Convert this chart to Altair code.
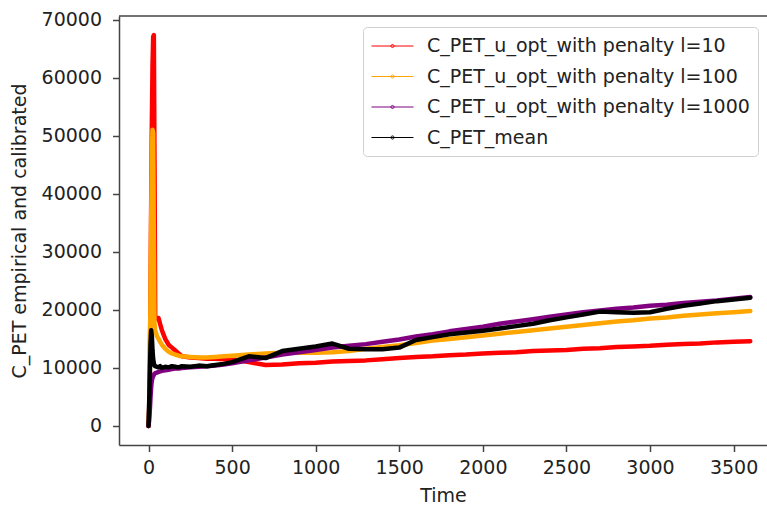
import altair as alt
import pandas as pd

# Time axis (seconds)
time = [0, 4, 8, 12, 16, 20, 24, 28, 32, 36, 40,
        50, 60, 70, 80, 100, 120, 140, 160, 180, 200, 250, 300, 350, 400, 450, 500,
        600, 700, 800, 900, 1000, 1100, 1200, 1300, 1400, 1500, 1600, 1700, 1800, 1900,
        2000, 2100, 2200, 2300, 2400, 2500, 2600, 2700, 2800, 2900, 3000, 3100, 3200,
        3300, 3400, 3500, 3600]

pen_10 = [0, 3000, 11000, 23500, 38000, 52000, 62000, 67000, 67300, 45000, 18800,
          18500, 18600, 17500, 16500, 15000, 14000, 13500, 13000, 12500, 12000, 11800, 11700, 11600, 11600, 11500, 11500,
          11000, 10500, 10600, 10800, 10900, 11100, 11200, 11300, 11500, 11700, 11900, 12000, 12200, 12300,
          12500, 12600, 12700, 12900, 13000, 13100, 13300, 13400, 13600, 13700, 13800, 14000, 14100,
          14200, 14400, 14500, 14600]

pen_100 = [0, 2500, 9000, 23500, 36000, 46000, 51000, 50500, 32000, 17500, 16500,
           15500, 15000, 14500, 14000, 13300, 12800, 12500, 12300, 12100, 12000, 11900, 11800, 11800, 11900, 12000, 12100,
           12300, 12500, 12600, 12600, 12600, 12700, 12900, 13300, 13600, 13900, 14300, 14700, 15000, 15300,
           15600, 15900, 16200, 16500, 16800, 17100, 17400, 17700, 18000, 18200, 18500, 18700, 19000,
           19200, 19400, 19600, 19800]

pen_1000 = [0, 1000, 2800, 5000, 6800, 7800, 8300, 8600, 8800, 9000, 9100,
            9200, 9300, 9400, 9500, 9600, 9700, 9800, 9900, 9900, 10000, 10100, 10200, 10300, 10400, 10600, 10800,
            11300, 11800, 12300, 12700, 13100, 13500, 13800, 14100, 14500, 14900, 15400, 15800, 16300, 16700,
            17100, 17600, 18000, 18400, 18800, 19200, 19600, 19900, 20200, 20400, 20700, 20900, 21200,
            21400, 21600, 21900, 22200]

pet_mean = [0, 4000, 9000, 14000, 16500, 15500, 13000, 11500, 10800, 10400, 10300,
            10200, 10100, 10300, 10000, 10200, 10100, 10300, 10200, 10100, 10300, 10200, 10400, 10300, 10500, 10700, 11000,
            12000, 11700, 12900, 13300, 13700, 14200, 13300, 13200, 13200, 13500, 14800, 15300, 15800, 16100,
            16400, 16800, 17200, 17600, 18200, 18700, 19200, 19700, 19600, 19500, 19600, 20200, 20700,
            21100, 21500, 21800, 22100]

labels = ["C_PET_u_opt_with penalty l=10",
          "C_PET_u_opt_with penalty l=100",
          "C_PET_u_opt_with penalty l=1000",
          "C_PET_mean"]
colors = ["#ff0000", "#ffa500", "#800080", "#000000"]
series = [pen_10, pen_100, pen_1000, pet_mean]

x_ticks = [0, 500, 1000, 1500, 2000, 2500, 3000, 3500]
y_ticks = [0, 10000, 20000, 30000, 40000, 50000, 60000, 70000]

FONT = "DejaVu Sans"
W, H = 648, 429

# legend handle: short line with a small dot in the middle
HANDLE = "M-1,0L3,0M0.85,0A0.15,0.15 0 1,1 1.15,0A0.15,0.15 0 1,1 0.85,0"

x_enc = alt.X("Time:Q",
              scale=alt.Scale(domain=[-176.5, 3700], nice=False, zero=False),
              axis=alt.Axis(title="Time", values=x_ticks, grid=False, format="d",
                            labelFontSize=19, titleFontSize=19, labelFont=FONT, titleFont=FONT,
                            labelColor="#222", titleColor="#222", titleFontWeight="normal",
                            domainColor="#444", domainWidth=1.5, tickColor="#444", tickWidth=1.5,
                            tickSize=6.5, labelPadding=7, titlePadding=9))
y_enc = alt.Y("value:Q",
              scale=alt.Scale(domain=[-3272, 70603], nice=False, zero=False),
              axis=alt.Axis(title="C_PET empirical and calibrated", values=y_ticks, grid=False, format="d",
                            labelFontSize=19, titleFontSize=19, labelFont=FONT, titleFont=FONT,
                            labelColor="#222", titleColor="#222", titleFontWeight="normal",
                            domainColor="#444", domainWidth=1.5, tickColor="#444", tickWidth=1.5,
                            tickSize=6.5, labelPadding=11, titlePadding=12))
color_enc = alt.Color("series:N",
                      scale=alt.Scale(domain=labels, range=colors),
                      legend=alt.Legend(title=None, orient="none", legendX=244, legendY=11,
                                        symbolType=HANDLE, symbolSize=441, symbolStrokeWidth=1.0,
                                        labelFontSize=19, labelFont=FONT, labelColor="#222",
                                        labelLimit=500, rowPadding=9.5, labelOffset=34, padding=8,
                                        strokeColor="#d0d0d0", fillColor="white", cornerRadius=4))

layers = []
for lab, vals in zip(labels, series):
    df = pd.DataFrame({"Time": time, "value": vals, "series": lab})
    layers.append(
        alt.Chart(df).mark_line(strokeWidth=4.5, strokeJoin="round", strokeCap="round")
        .encode(x=x_enc, y=y_enc, color=color_enc)
    )

frame = alt.Chart(pd.DataFrame({"a": [0]})).mark_rule(color="#444", strokeWidth=1.5).encode(
    x=alt.value(0), x2=alt.value(W), y=alt.value(0))

chart = (
    alt.layer(*layers, frame)
    .properties(width=W, height=H,
                padding={"left": 119, "top": 16, "right": 0, "bottom": 63},
                autosize=alt.AutoSizeParams(type="none"),
                background="white")
    .configure_view(stroke=None)
)

chart.save("out.html", embed_options={"renderer": "svg", "actions": False})
